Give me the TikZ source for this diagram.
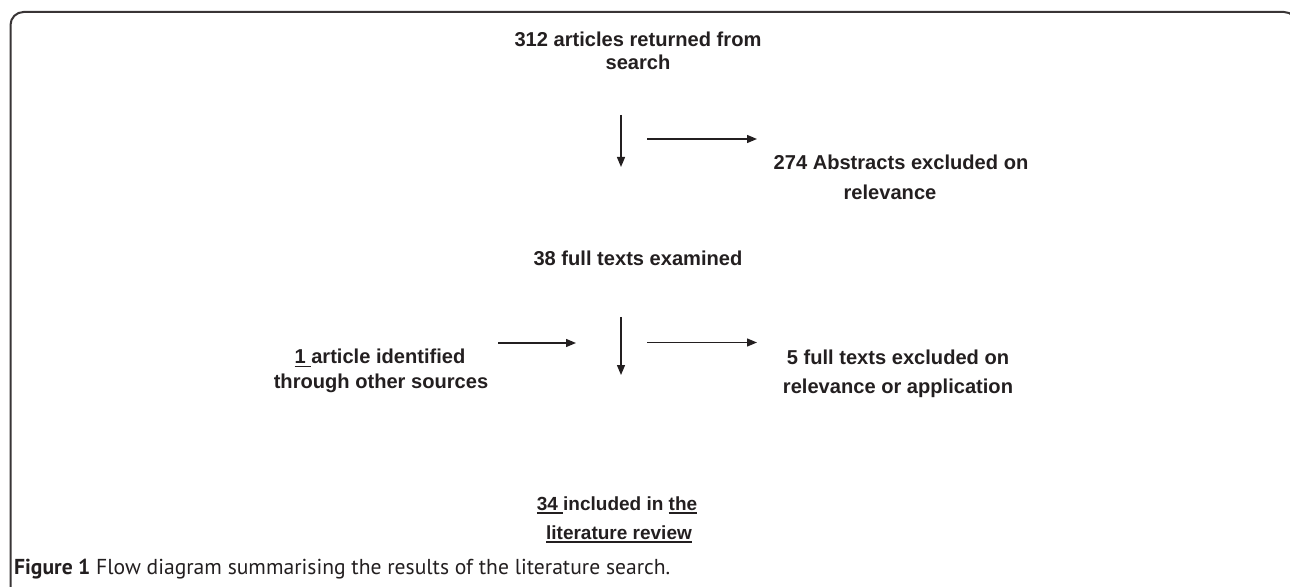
\documentclass[tikz,border=0pt]{standalone}
\usepackage{fontspec}
\setmainfont{Liberation Sans}
\newfontfamily\capfont{PT Sans}
\usetikzlibrary{arrows.meta}
\definecolor{ink}{HTML}{231F20}
\newcommand\myul[1]{\setbox0\hbox{#1}\rlap{\rule[-3.5bp]{\wd0}{1.8bp}}\box0}
\begin{document}
\begin{tikzpicture}[x=1bp,y=-1bp,
  lbl/.style={font=\fontsize{20.1bp}{24bp}\selectfont\bfseries, text=ink, inner sep=0pt, anchor=base},
  lblsm/.style={lbl, font=\fontsize{19bp}{24bp}\selectfont\bfseries},
  captxt/.style={font=\fontsize{21.6bp}{24bp}\selectfont\capfont, text=ink, inner sep=0pt, anchor=base west},
  flow/.style={draw=ink, line width=1.3bp, -{Triangle[length=10bp,width=8bp]}},
  frame/.style={draw=ink!90, line width=2bp, rounded corners=13bp}]
\useasboundingbox (0,0) rectangle (1290,587);
\begin{scope}
\clip (0,0) rectangle (1290,587);
\draw[frame] (10.5,610) -- (10.5,12) -- (1297,12) -- (1297,610);
\end{scope}
% texts
\node[lbl] (a1) at (638,46.5) {312 articles returned from};
\node[lbl] (a2) at (638,70) {search};
\node[lbl] (b1) at (901,170) {274 Abstracts excluded on};
\node[lbl] (b2) at (890,200) {relevance};
\node[lbl] (c1) at (638,266) {38 full texts examined};
\node[lbl] (d1) at (380,364) {\myul{1 }article identified};
\node[lbl] (d2) at (381,388.5) {through other sources};
\node[lbl] (e1) at (898,365) {5 full texts excluded on};
\node[lbl] (e2) at (898,393) {relevance or application};
\node[lblsm] (f1) at (617,510) {\myul{34 }included in \myul{the}};
\node[lblsm] (f2) at (619,539) {\myul{literature review}};
\node[captxt] (g) at (14,574) {\textbf{Figure 1} Flow diagram summarising the results of the literature search.};
% arrow end points
\coordinate (p1s) at (621,115); \coordinate (p1e) at (621,167);
\coordinate (q1s) at (647,139); \coordinate (q1e) at (757,139);
\coordinate (p2s) at (621,317); \coordinate (p2e) at (621,375);
\coordinate (r2s) at (498,343); \coordinate (r2e) at (576,343);
\coordinate (q2s) at (647,342.5); \coordinate (q2e) at (757,342.5);
\draw[flow] (p1s) -- (p1e);
\draw[flow] (q1s) -- (q1e);
\draw[flow] (p2s) -- (p2e);
\draw[flow] (r2s) -- (r2e);
\draw[flow] (q2s) -- (q2e);
\end{tikzpicture}
\end{document}
